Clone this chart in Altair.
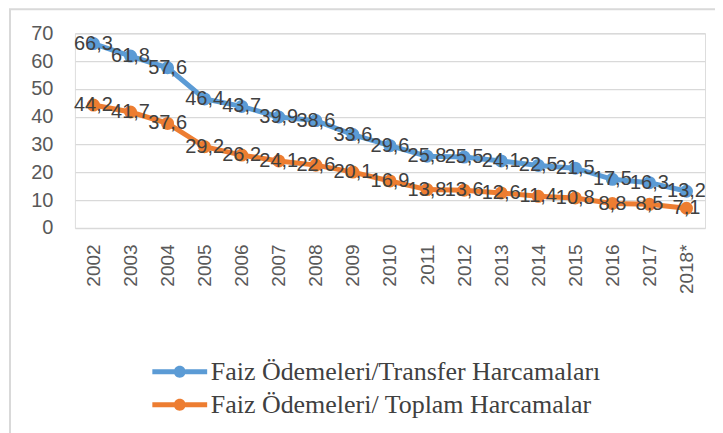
import altair as alt
import pandas as pd

years = ["2002", "2003", "2004", "2005", "2006", "2007", "2008", "2009", "2010",
         "2011", "2012", "2013", "2014", "2015", "2016", "2017", "2018*"]
s1_name = "Faiz Ödemeleri/Transfer Harcamaları"
s2_name = "Faiz Ödemeleri/ Toplam Harcamalar"
s1 = [66.3, 61.8, 57.6, 46.4, 43.7, 39.9, 38.6, 33.6, 29.6, 25.8, 25.5, 24.1, 22.5, 21.5, 17.5, 16.3, 13.2]
s2 = [44.2, 41.7, 37.6, 29.2, 26.2, 24.1, 22.6, 20.1, 16.9, 13.8, 13.6, 12.6, 11.4, 10.8, 8.8, 8.5, 7.1]
y_ticks = [0, 10, 20, 30, 40, 50, 60, 70]

df = pd.DataFrame({
    "year": years * 2,
    "series": [s1_name] * len(years) + [s2_name] * len(years),
    "value": s1 + s2,
})
df["label"] = df["value"].map(lambda v: f"{v:.1f}".replace(".", ","))

W, H = 631, 195
TXT = "#404040"

# legend glyph: a thick line with a dot in the middle (unit = 15px)
sym = ("M-1.83,-0.165L-0.37,-0.165L-0.37,0.165L-1.83,0.165Z"
       "M0.37,-0.165L1.83,-0.165L1.83,0.165L0.37,0.165Z"
       "M-0.4,0A0.4,0.4,0,1,1,0.4,0A0.4,0.4,0,1,1,-0.4,0Z")

cscale = alt.Scale(domain=[s1_name, s2_name], range=["#5B9BD5", "#ED7D31"])
leg = alt.Legend(orient="none", legendX=90, legendY=324,
                 direction="vertical", title=None,
                 labelFont="Liberation Serif", labelFontSize=26, labelLimit=0,
                 labelColor=TXT, symbolType=sym, symbolSize=900,
                 symbolStrokeWidth=0, labelOffset=16, rowPadding=5)
color = alt.Color("series:N", scale=cscale, legend=leg)

x = alt.X("year:N", sort=years, title=None,
          axis=alt.Axis(labelAngle=-90, labelFontSize=19, labelColor="#595959",
                        labelFont="Liberation Sans", ticks=False, domain=False,
                        grid=False, labelPadding=16))
y = alt.Y("value:Q", title=None, scale=alt.Scale(domain=[0, 70], nice=False),
          axis=alt.Axis(values=y_ticks, labelFontSize=20, labelColor="#595959",
                        labelFont="Liberation Sans", ticks=False, domain=False,
                        grid=True, gridColor="#D9D9D9", gridWidth=1.3, labelPadding=22))

base = alt.Chart(df)

border = alt.Chart(pd.DataFrame({"k": [0]})).mark_rect(
    fillOpacity=0, stroke="#D9D9D9", strokeWidth=2, clip=False
).encode(x=alt.value(-65), x2=alt.value(W + 40), y=alt.value(-24), y2=alt.value(H + 260))

lines = base.mark_line(strokeWidth=5).encode(x=x, y=y, color=color)

points = base.mark_circle(size=170, opacity=1).encode(x=x, y=y, color=color)

labels = base.mark_text(fontSize=20, font="Liberation Sans", color=TXT).encode(
    x=x, y=y, text="label:N")

chart = alt.layer(border, lines, points, labels).properties(
    width=W, height=H,
    autosize=alt.AutoSizeParams(type="none"),
    padding={"left": 67, "top": 25, "right": 10, "bottom": 205},
).configure_view(stroke=None).configure(background="white")

chart.save("out.html", embed_options={"renderer": "svg", "actions": False})
